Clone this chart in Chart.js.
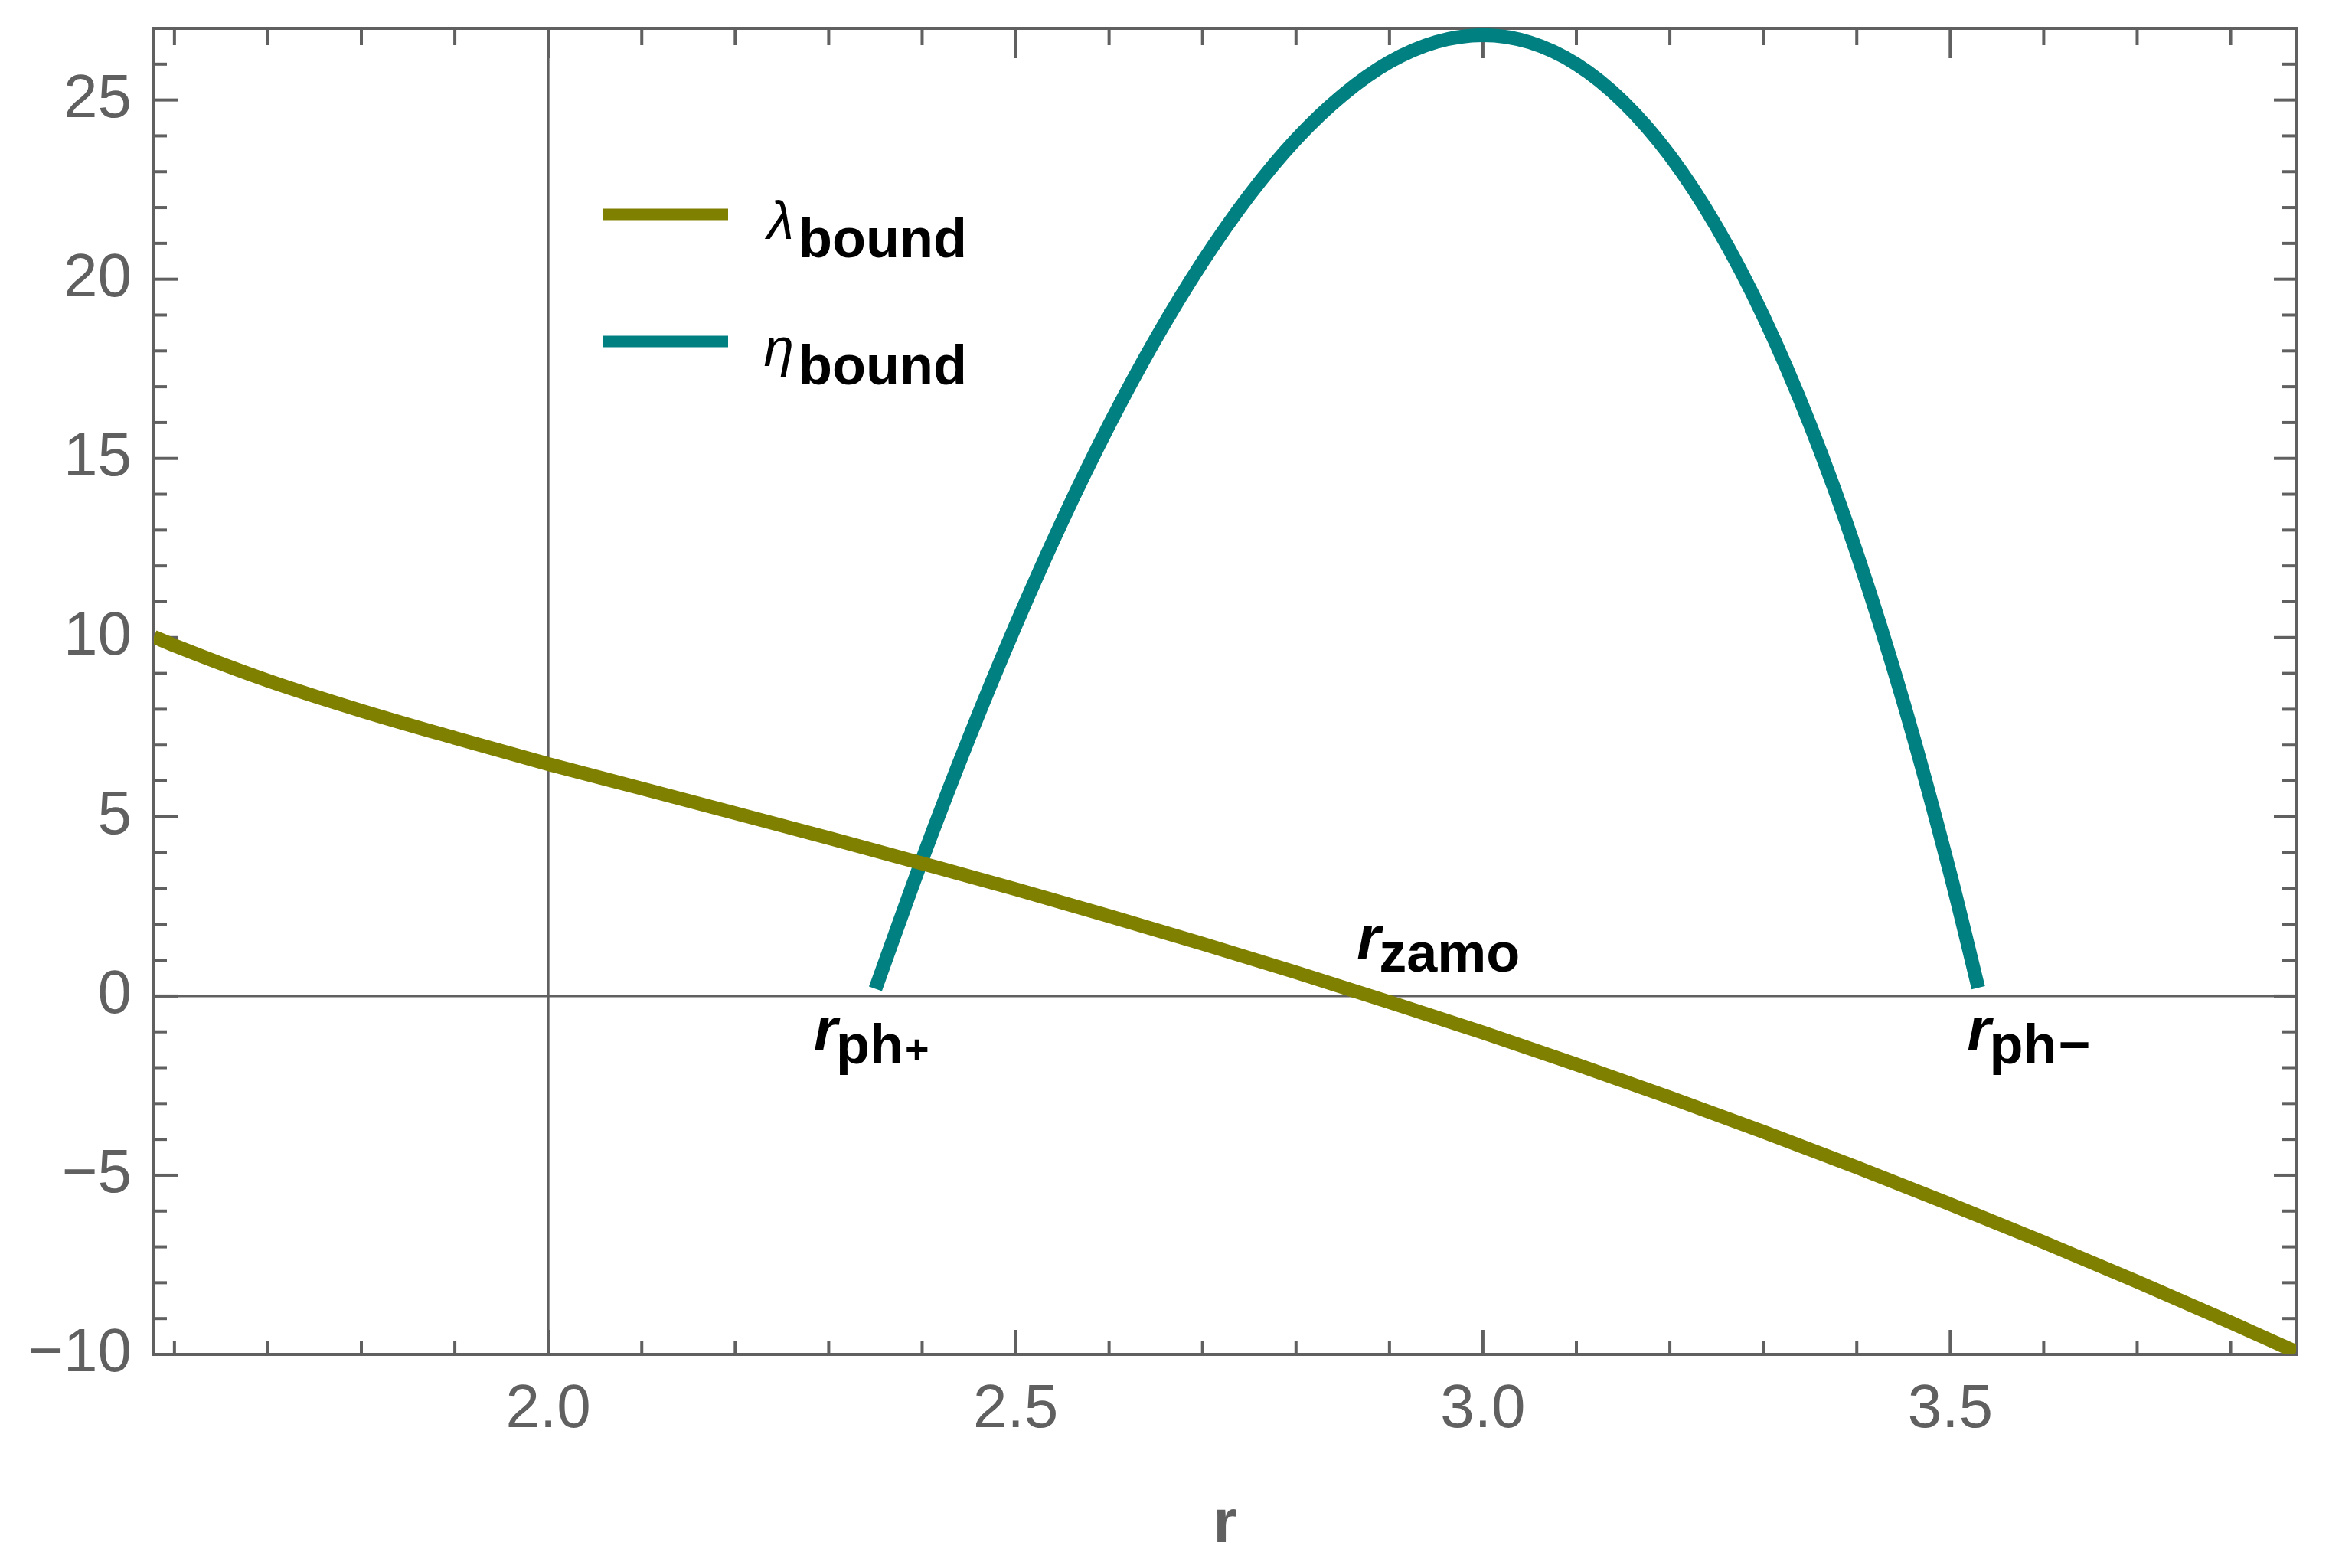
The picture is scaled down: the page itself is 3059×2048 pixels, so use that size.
<!DOCTYPE html>
<html><head><meta charset="utf-8">
<script src="https://cdn.jsdelivr.net/npm/chart.js@4.4.1/dist/chart.umd.min.js"></script>
<style>html,body{margin:0;padding:0;background:#fff;}canvas{display:block;}</style>
</head><body>
<canvas id="c" width="3059" height="2048"></canvas>
<script>
// ---- data ----
const rLambda = [1.578, 1.6, 1.7, 1.8, 1.9, 2.0, 2.1, 2.2, 2.3, 2.4, 2.5, 2.6, 2.7, 2.8, 2.9, 3.0, 3.1, 3.2, 3.3, 3.4, 3.5, 3.6, 3.7, 3.8, 3.87];
const lambdaBound = [10.02, 9.78, 8.8, 7.96, 7.2, 6.47, 5.79, 5.1, 4.41, 3.7, 2.98, 2.23, 1.46, 0.66, -0.17, -1.02, -1.91, -2.83, -3.79, -4.78, -5.81, -6.87, -7.97, -9.11, -9.93];
const rEta = [2.35, 2.4, 2.45, 2.5, 2.55, 2.6, 2.65, 2.7, 2.75, 2.8, 2.85, 2.9, 2.95, 3.0, 3.05, 3.1, 3.15, 3.2, 3.25, 3.3, 3.35, 3.4, 3.45, 3.5, 3.53];
const etaBound = [0.2, 3.81, 7.19, 10.34, 13.26, 15.93, 18.34, 20.48, 22.34, 23.9, 25.14, 26.06, 26.62, 26.81, 26.61, 26.0, 24.95, 23.45, 21.46, 18.97, 15.94, 12.36, 8.19, 3.41, 0.23];
const xMajorTicks = [2.0, 2.5, 3.0, 3.5];
const yMajorTicks = [-10, -5, 0, 5, 10, 15, 20, 25];
const xRange = [1.578, 3.87];
const yRange = [-10, 27];
const axisOrigin = [2.0, 0];
const seriesSymbols = ['λ', 'η'];
const seriesSubscript = 'bound';
const seriesColors = ['#808000', '#008080'];
const markerLabels = [['r', 'ph', '+'], ['r', 'zamo', ''], ['r', 'ph', '−']];
const axisTitle = 'r';

const FONT = '"Liberation Sans", Arial, sans-serif';
const GREEK = '"Liberation Sans", "DejaVu Sans", sans-serif';
const GRAY = '#606060';

function seg(ctx, x1, y1, x2, y2) { ctx.beginPath(); ctx.moveTo(x1, y1); ctx.lineTo(x2, y2); ctx.stroke(); }

const framePlugin = {
  id: 'mmaFrame',
  beforeDatasetsDraw(chart) {
    const { ctx, chartArea: a, scales: { x, y } } = chart;
    ctx.save();
    ctx.strokeStyle = GRAY;
    ctx.lineCap = 'butt';
    ctx.lineWidth = 3;
    const x0 = x.getPixelForValue(axisOrigin[0]);
    const y0 = y.getPixelForValue(axisOrigin[1]);
    seg(ctx, x0, a.top, x0, a.bottom);
    seg(ctx, a.left, y0, a.right, y0);
    ctx.lineWidth = 4;
    const xStart = Math.ceil(xRange[0] * 10), xEnd = Math.floor(xRange[1] * 10);
    for (let k = xStart; k <= xEnd; k++) {
      const v = k / 10;
      const major = xMajorTicks.some(t => Math.abs(t - v) < 1e-6);
      const px = x.getPixelForValue(v);
      seg(ctx, px, a.bottom, px, a.bottom - (major ? 32 : 17));
      seg(ctx, px, a.top, px, a.top + (major ? 39 : 22));
    }
    for (let v = Math.ceil(yRange[0]); v <= Math.floor(yRange[1]); v++) {
      const major = yMajorTicks.includes(v);
      const py = y.getPixelForValue(v);
      seg(ctx, a.left, py, a.left + (major ? 32 : 17), py);
      seg(ctx, a.right, py, a.right - (major ? 29 : 19), py);
    }
    ctx.lineWidth = 4;
    ctx.strokeRect(a.left, a.top, a.right - a.left, a.bottom - a.top);
    ctx.restore();
  }
};

const textPlugin = {
  id: 'mmaText',
  afterDatasetsDraw(chart, args, opts) {
    const { ctx, scales: { x, y } } = chart;
    ctx.save();
    ctx.textBaseline = 'alphabetic';
    ctx.textAlign = 'left';
    // size the Greek symbol so that λ is ~52px tall, like the reference
    ctx.font = 'italic 100px ' + GREEK;
    const asc = ctx.measureText(seriesSymbols[0]).actualBoundingBoxAscent || 72;
    const gSize = Math.round(100 * 52 / asc);
    chart.data.datasets.forEach((ds, i) => {
      const ly = opts.legendTop + i * opts.legendGap;
      ctx.strokeStyle = ds.borderColor;
      ctx.lineWidth = 15;
      ctx.lineCap = 'butt';
      seg(ctx, opts.legendLineX[0], ly, opts.legendLineX[1], ly);
      ctx.fillStyle = '#000';
      ctx.font = 'italic ' + gSize + 'px ' + GREEK;
      const w = ctx.measureText(seriesSymbols[i]).width;
      ctx.fillText(seriesSymbols[i], opts.legendSubX - 6 - w, ly + 32);
      ctx.font = 'bold 72px ' + FONT;
      ctx.fillText(seriesSubscript, opts.legendSubX, ly + 56);
    });
    markerLabels.forEach((lab, i) => {
      const pos = opts.markerPos[i];
      const px = x.getPixelForValue(pos[0]);
      const py = y.getPixelForValue(pos[1]);
      ctx.fillStyle = '#000';
      ctx.font = 'italic bold 80px ' + FONT;
      ctx.fillText(lab[0], px, py);
      let sx = px + ctx.measureText(lab[0]).width - 2;
      ctx.font = 'bold 72px ' + FONT;
      ctx.fillText(lab[1], sx, py + 17);
      sx += ctx.measureText(lab[1]).width + 2;
      if (lab[2] === '+') {
        ctx.font = 'bold 54px ' + FONT;
        ctx.fillText(lab[2], sx, py + 17);
      } else if (lab[2]) {
        ctx.fillText(lab[2], sx, py + 17);
      }
    });
    ctx.restore();
  }
};

const fmtY = v => (v < 0 ? '−' + Math.abs(v) : String(v));

new Chart(document.getElementById('c'), {
  type: 'line',
  data: {
    datasets: [
      { label: seriesSymbols[0] + seriesSubscript, data: rLambda.map((r, i) => ({ x: r, y: lambdaBound[i] })),
        borderColor: seriesColors[0], borderWidth: 18, pointRadius: 0, cubicInterpolationMode: 'monotone', clip: 0, fill: false },
      { label: seriesSymbols[1] + seriesSubscript, data: rEta.map((r, i) => ({ x: r, y: etaBound[i] })),
        borderColor: seriesColors[1], borderWidth: 18, pointRadius: 0, cubicInterpolationMode: 'monotone', clip: 0, fill: false }
    ]
  },
  options: {
    responsive: false,
    animation: false,
    devicePixelRatio: 1,
    layout: { padding: { left: 0, right: 60, top: 37, bottom: 0 } },
    plugins: {
      legend: { display: false },
      tooltip: { enabled: false },
      mmaText: {
        legendTop: 280, legendGap: 166, legendLineX: [788, 951], legendSubX: 1043,
        markerPos: [[2.284, -1.52], [2.865, 1.05], [3.518, -1.52]]
      }
    },
    scales: {
      x: {
        type: 'linear', min: xRange[0], max: xRange[1],
        grid: { display: false, drawTicks: false }, border: { display: false },
        afterBuildTicks: s => { s.ticks = xMajorTicks.map(v => ({ value: v })); },
        afterFit: s => { s.height = 279; s.paddingLeft = 0; s.paddingRight = 0; },
        ticks: { color: GRAY, font: { family: FONT, size: 80 }, padding: 25, maxRotation: 0, autoSkip: false,
                 callback: v => Number(v).toFixed(1) },
        title: { display: true, text: axisTitle, color: GRAY, font: { family: FONT, size: 80, weight: 'bold' },
                 padding: { top: 0, bottom: 8 } }
      },
      y: {
        type: 'linear', min: yRange[0], max: yRange[1],
        grid: { display: false, drawTicks: false }, border: { display: false },
        afterBuildTicks: s => { s.ticks = yMajorTicks.map(v => ({ value: v })); },
        afterFit: s => { s.width = 201; s.paddingTop = 0; s.paddingBottom = 0; },
        ticks: { color: GRAY, font: { family: FONT, size: 80 }, padding: 29, autoSkip: false, callback: fmtY }
      }
    }
  },
  plugins: [framePlugin, textPlugin]
});
</script>
</body></html>
